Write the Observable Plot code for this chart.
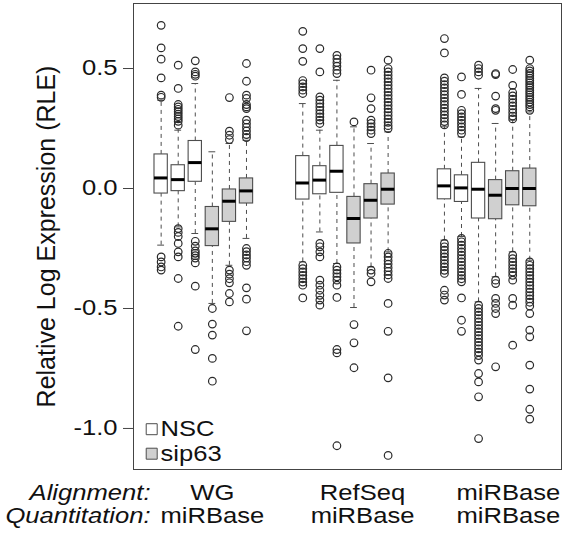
<!DOCTYPE html>
<html><head><meta charset="utf-8">
<script src="https://cdn.jsdelivr.net/npm/d3@7"></script>
<script src="https://cdn.jsdelivr.net/npm/@observablehq/plot@0.6"></script>
<style>body{margin:0;background:#fff;} svg{display:block;}</style>
</head><body><div id="chart"></div><script>
const groups = ["WG", "RefSeq", "miRBase"];
const alignment = ["WG", "RefSeq", "miRBase"];
const quantitation = ["miRBase", "miRBase", "miRBase"];
const conditions = ["NSC", "NSC", "NSC", "sip63", "sip63", "sip63"];
const legendKeys = ["NSC", "sip63"];
const rowLabels = ["Alignment:", "Quantitation:"];
const yLabel = "Relative Log Expression (RLE)";
const yTicks = [-1.0, -0.5, 0.0, 0.5];

// box statistics, 18 boxes (3 groups x 6)
const q1  = [-0.021, -0.011, 0.028, -0.240, -0.139, -0.0625,  -0.046, -0.024, -0.018, -0.229, -0.125, -0.067,  -0.045, -0.056, -0.125, -0.128, -0.070, -0.074];
const med = [ 0.044,  0.037, 0.108, -0.168, -0.053, -0.010,    0.023,  0.035,  0.072, -0.125, -0.049, -0.003,   0.011,  0.0025, -0.003, -0.028, 0.000, 0.000];
const q3  = [ 0.142,  0.097, 0.198, -0.077, -0.004,  0.042,    0.135,  0.093,  0.1775, -0.035, 0.018,  0.0625,  0.080,  0.055,  0.107,  0.035,  0.072,  0.083];
const lo  = [-0.236, -0.160, -0.1875, -0.479, -0.320, -0.208,  -0.306, -0.181, -0.3125, -0.496, -0.327, -0.264, -0.215, -0.200, -0.4725, -0.368, -0.264, -0.299];
const hi  = [ 0.368,  0.243, 0.4375, 0.153,  0.1875, 0.201,    0.354,  0.243,  0.451,  0.257,  0.1875, 0.236,   0.257,  0.215,  0.417,  0.271,  0.285,  0.319];
const outliers = [
  [0.68, 0.586, 0.539, 0.461, 0.389, 0.38, -0.285, -0.306, -0.327, -0.34],
  [0.514, 0.417, 0.35, 0.34, 0.33, 0.32, 0.31, 0.30, 0.29, 0.28, 0.264, -0.167, -0.183, -0.2, -0.229, -0.264, -0.285, -0.375, -0.574],
  [0.532, 0.486, 0.476, 0.468, -0.22, -0.24, -0.26, -0.27, -0.28, -0.29, -0.31, -0.407, -0.671],
  [-0.5, -0.565, -0.611, -0.708, -0.803],
  [0.379, 0.239, 0.222, 0.204, -0.34, -0.357, -0.376, -0.393, -0.4375, -0.4725],
  [0.521, 0.447, 0.389, 0.375, 0.35, 0.34, 0.333, 0.285, 0.27, 0.255, 0.24, 0.225, 0.2125, -0.25, -0.263, -0.277, -0.29, -0.305, -0.32, -0.414, -0.461, -0.593],
  [0.655, 0.583, 0.53, 0.45, 0.437, 0.423, 0.41, 0.396, -0.32, -0.334, -0.348, -0.362, -0.376, -0.39, -0.403, -0.456],
  [0.583, 0.486, 0.382, 0.368, 0.354, 0.34, 0.326, 0.312, 0.298, 0.285, 0.271, -0.229, -0.243, -0.264, -0.285, -0.382, -0.403, -0.424, -0.445, -0.465, -0.486],
  [0.555, 0.54, 0.525, 0.51, 0.493, 0.479, -0.327, -0.34, -0.354, -0.368, -0.382, -0.403, -0.454, -0.671, -0.685, -1.072],
  [0.2775, -0.567, -0.643, -0.747],
  [0.493, 0.378, 0.333, 0.285, 0.271, 0.257, 0.243, 0.229, -0.34, -0.354, -0.389],
  [0.535, 0.5, 0.486, 0.472, 0.458, 0.444, 0.43, 0.416, 0.402, 0.388, 0.374, 0.36, 0.346, 0.332, 0.318, 0.304, 0.29, 0.276, 0.262, 0.25, -0.27, -0.285, -0.3, -0.315, -0.33, -0.345, -0.36, -0.375, -0.479, -0.595, -0.789, -1.1125],
  [0.625, 0.565, 0.461, 0.447, 0.433, 0.419, 0.405, 0.391, 0.377, 0.363, 0.349, 0.335, 0.321, 0.307, 0.293, 0.279, 0.265, -0.229, -0.243, -0.257, -0.271, -0.285, -0.299, -0.313, -0.327, -0.341, -0.354, -0.424, -0.444, -0.465],
  [0.465, 0.392, 0.326, 0.312, 0.298, 0.285, 0.271, 0.257, 0.243, 0.229, -0.208, -0.222, -0.236, -0.25, -0.264, -0.278, -0.292, -0.306, -0.32, -0.334, -0.348, -0.362, -0.376, -0.389, -0.456, -0.549, -0.595],
  [0.514, 0.5, 0.486, 0.472, -0.486, -0.5, -0.514, -0.528, -0.542, -0.556, -0.57, -0.584, -0.598, -0.612, -0.626, -0.64, -0.654, -0.668, -0.682, -0.696, -0.715, -0.771, -0.806, -0.868, -1.042],
  [0.479, 0.475, 0.385, 0.333, 0.326, -0.382, -0.396, -0.458, -0.479, -0.5, -0.521, -0.743],
  [0.496, 0.43, 0.4, 0.386, 0.372, 0.358, 0.344, 0.33, 0.316, 0.302, 0.29, -0.278, -0.292, -0.306, -0.32, -0.334, -0.348, -0.362, -0.382, -0.458, -0.486, -0.653],
  [0.535, 0.5, 0.49, 0.48, 0.47, 0.46, 0.45, 0.44, 0.43, 0.42, 0.41, 0.4, 0.39, 0.38, 0.37, 0.36, 0.35, 0.34, 0.326, -0.306, -0.32, -0.334, -0.348, -0.362, -0.376, -0.39, -0.404, -0.418, -0.432, -0.446, -0.46, -0.474, -0.49, -0.521, -0.59, -0.618, -0.736, -0.836, -0.92, -0.961]
];

// layout
const GROUP_GAP = 8.3, HALF = 0.39, CAP = 0.2;
const labelShift = [0.5, 1.0, 1.25];
const FONT = "'Liberation Sans', Arial, Helvetica, sans-serif";
const FS = 21.5, STRETCH = 1.19;

const boxes = [];
groups.forEach((g, gi) => conditions.forEach((c, k) => {
  const i = gi * 6 + k;
  boxes.push({group: g, cond: c, x: 1 + gi * GROUP_GAP + k, q1: q1[i], med: med[i], q3: q3[i], lo: lo[i], hi: hi[i]});
}));
const outPts = boxes.flatMap((b, i) => outliers[i].map(v => ({x: b.x, y: v})));
const groupLabels = groups.map((g, gi) => ({x: 1 + gi * GROUP_GAP + 2.5 + labelShift[gi], a: alignment[gi], q: quantitation[gi]}));
const fillOf = c => c === "NSC" ? "white" : "#d0d0d0";
const STROKE = "#4d4d4d";

const chart = Plot.plot({
  width: 566, height: 539,
  marginTop: 3, marginBottom: 70, marginLeft: 133, marginRight: 5,
  style: {fontFamily: FONT, background: "white", color: "#111"},
  x: {domain: [-0.62, 24.46], axis: null},
  y: {domain: [-1.171, 0.771]},
  marks: [
    Plot.ruleX(boxes, {x: "x", y1: "q3", y2: "hi", stroke: STROKE, strokeDasharray: "4,4"}),
    Plot.ruleX(boxes, {x: "x", y1: "lo", y2: "q1", stroke: STROKE, strokeDasharray: "4,4"}),
    Plot.ruleY(boxes, {y: "hi", x1: d => d.x - CAP, x2: d => d.x + CAP, stroke: STROKE}),
    Plot.ruleY(boxes, {y: "lo", x1: d => d.x - CAP, x2: d => d.x + CAP, stroke: STROKE}),
    Plot.rect(boxes, {x1: d => d.x - HALF, x2: d => d.x + HALF, y1: "q1", y2: "q3", fill: d => fillOf(d.cond), stroke: STROKE, strokeWidth: 1.1}),
    Plot.ruleY(boxes, {y: "med", x1: d => d.x - HALF, x2: d => d.x + HALF, stroke: "black", strokeWidth: 3}),
    Plot.dot(outPts, {x: "x", y: "y", r: 3.8, stroke: "#2a2a2a", strokeWidth: 1.2, fill: "none"}),
    Plot.frame({stroke: "#444"}),
    Plot.axisY({ticks: yTicks, tickFormat: d => d.toFixed(1), tickSize: 10, tickPadding: 6, fontSize: FS, label: null, stroke: "#444"}),
    Plot.text([yLabel], {frameAnchor: "left", rotate: -90, dx: -87, fontSize: 25, lineAnchor: "middle", textAnchor: "middle", className: "nostretch"}),
    ...legendKeys.map((k, i) => Plot.dot([k], {frameAnchor: "bottom-left", dx: 18.2, dy: i === 0 ? -40.3 : -15.8, symbol: "square", r: 6.2, fill: fillOf(k), stroke: STROKE, strokeWidth: 1})),
    ...legendKeys.map((k, i) => Plot.text([k], {frameAnchor: "bottom-left", dx: 27, dy: i === 0 ? -40.3 : -15.8, textAnchor: "start", lineAnchor: "middle", fontSize: FS})),
    Plot.text([rowLabels[0]], {frameAnchor: "bottom-left", dx: 17, dy: 23.2, textAnchor: "end", lineAnchor: "middle", fontSize: FS, fontStyle: "italic"}),
    Plot.text([rowLabels[1]], {frameAnchor: "bottom-left", dx: 17, dy: 46.7, textAnchor: "end", lineAnchor: "middle", fontSize: FS, fontStyle: "italic"}),
    Plot.text(groupLabels, {x: "x", frameAnchor: "bottom", text: "a", dy: 23.2, textAnchor: "middle", lineAnchor: "middle", fontSize: FS}),
    Plot.text(groupLabels, {x: "x", frameAnchor: "bottom", text: "q", dy: 46.7, textAnchor: "middle", lineAnchor: "middle", fontSize: FS})
  ]
});
document.getElementById("chart").appendChild(chart);
// horizontal widening of text to match the reference's wide lettering
chart.querySelectorAll("text").forEach(t => {
  if (t.closest(".nostretch")) return;
  if (t.querySelector("tspan")) return;
  const w = t.getComputedTextLength();
  if (w > 0) {
    t.setAttribute("textLength", (w * STRETCH).toFixed(2));
    t.setAttribute("lengthAdjust", "spacingAndGlyphs");
  }
});
</script></body></html>
